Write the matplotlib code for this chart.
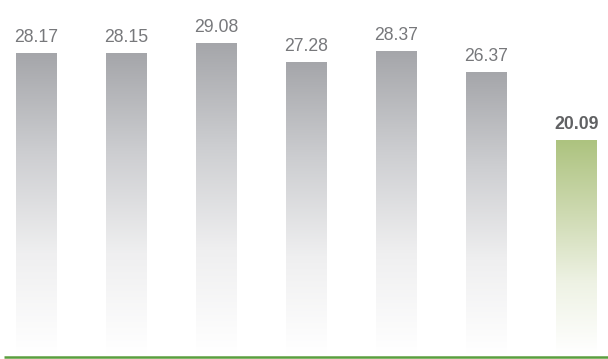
import numpy as np
import matplotlib
matplotlib.use("Agg")
import matplotlib.pyplot as plt
from matplotlib.colors import LinearSegmentedColormap

categories = ["1", "2", "3", "4", "5", "6", "7"]
values = [28.17, 28.15, 29.08, 27.28, 28.37, 26.37, 20.09]
labels = ["28.17", "28.15", "29.08", "27.28", "28.37", "26.37", "20.09"]
highlight = [False, False, False, False, False, False, True]

fig = plt.figure(figsize=(6.08, 3.59), dpi=100)
ax = fig.add_axes([0, 0, 1, 1])
ax.set_xlim(-0.405, 6.35)
ax.set_ylim(-0.28, 33.1)
ax.axis("off")

gray_cmap = LinearSegmentedColormap.from_list("g", ["#ffffff", "#efeff0", "#cdced1", "#a5a6aa"])
green_cmap = LinearSegmentedColormap.from_list("gr", ["#ffffff", "#eef2e4", "#cdd9b0", "#adc37f"])

width = 0.455
x = np.arange(len(categories))
bars = ax.bar(x, values, width=width, color="none", edgecolor="none")
grad = np.linspace(0, 1, 256).reshape(-1, 1)
for b, hl in zip(bars, highlight):
    x0, y0 = b.get_x(), b.get_y()
    w, h = b.get_width(), b.get_height()
    ax.imshow(grad, extent=[x0, x0 + w, y0 + 0.2, y0 + h], origin="lower",
              aspect="auto", cmap=green_cmap if hl else gray_cmap, zorder=2)

for xi, v, lab, hl in zip(x, values, labels, highlight):
    ax.annotate(lab, (xi, v), xytext=(0, 8), textcoords="offset points",
                ha="center", va="baseline", fontsize=12.7,
                color="#606163" if hl else "#77787b",
                fontweight="bold" if hl else "normal", family="Liberation Sans")

ax.plot([-0.36, 6.35], [-0.1, -0.1], color="#5a9e3e", lw=1.8, zorder=3,
        solid_capstyle="butt")

fig.savefig("out.png", dpi=100)
